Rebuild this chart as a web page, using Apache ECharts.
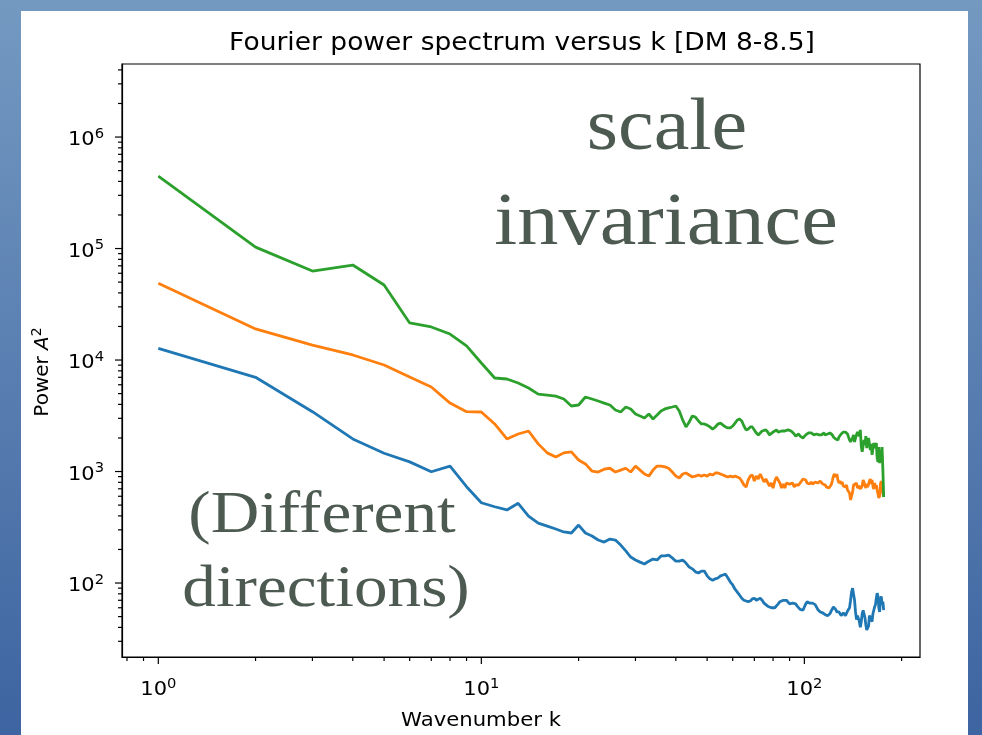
<!DOCTYPE html>
<html>
<head>
<meta charset="utf-8">
<script src="https://cdn.jsdelivr.net/npm/echarts@6/dist/echarts.min.js"></script>
<style>
html,body{margin:0;padding:0;background:#fff;}
#chart{width:982px;height:735px;}
</style>
</head>
<body>
<div id="chart"></div>
<script>
// ---- data ----
const wavenumbers = [1,2,3,4,5,6,7,8,9,10,11,12,13,14,15,16,17,18,19,20,21,22,23,24,25,26,27,28,29,30,
31,32,33,34,35,36,37,38,39,40,41,42,43,44,45,46,47,48,49,50,51,52,53,54,55,56,57,58,59,60,
61,62,63,64,65,66,67,68,69,70,71,72,73,74,75,76,77,78,79,80,81,82,83,84,85,86,87,88,89,90,
91,92,93,94,95,96,97,98,99,100,101,102,103,104,105,106,107,108,109,110,111,112,113,114,115,116,117,118,119,120,
121,122,123,124,125,126,127,128,129,130,131,132,133,134,135,136,137,138,139,140,141,142,143,144,145,146,147,148,149,150,
151,152,153,154,155,156,157,158,159,160,161,162,163,164,165,166,167,168,169,170,171,172,173,174,175,176];

const powerBlue = [12700,7000,3440,1960,1460,1220,995,1120,731,525,483,452,519,399,345,324,305,287,281,331,
281,264,243,233,248,243,219,194,171,161,154,148,157,164,161,175,175,178,168,157,
157,161,151,139,134,126,123,128,128,116,109,106,109,111,116,118,120,111,102,96,
88,83,78,73,70,69,68,69,72,73,70,68,73,70,66,65,62,61,60,58,
60,58,65,68,69,70,69,70,68,65,64,66,68,65,62,61,58,57,57,61,
65,68,68,66,65,66,66,64,61,58,56,55,55,54,53,52,52,51,52,53,
56,58,61,61,58,55,56,55,53,51,53,54,52,51,52,56,58,60,70,83,
90,87,70,55,47,51,53,45,40,45,53,57,56,49,42,38,37,41,51,53,
50,45,53,57,61,64,73,81,76,60,55,70,76,64,68,57];

const powerOrange = [48800,19000,13600,11100,9020,7040,5730,4110,3440,3420,2670,1960,2170,2310,1770,1470,1350,1470,1500,1270,
1170,1010,990,1050,1070,990,1030,1070,990,1120,1030,950,910,1030,1120,1120,1100,1070,990,910,
875,950,970,930,893,910,930,910,930,910,950,930,970,970,950,930,910,893,910,893,
910,893,875,822,757,726,839,910,930,822,910,857,950,875,805,857,839,741,788,711,
822,893,875,788,711,772,711,788,805,772,757,788,726,757,772,757,772,822,857,875,
839,788,757,772,805,772,757,805,822,788,805,822,805,772,741,757,726,697,711,711,
757,822,910,950,893,950,839,788,822,772,805,741,772,726,757,683,711,641,555,533,
655,757,788,741,788,711,683,741,697,683,741,839,822,757,711,772,726,741,822,857,
772,839,741,697,788,711,757,683,628,578,603,772,822,726,641,590];

const powerGreen = [447000,103000,62800,71100,47100,21500,19800,17100,13400,9400,6900,6760,6220,5610,4950,4850,4750,4470,3870,3950,
4660,4470,4290,4110,3950,3560,3420,3790,3640,3280,3150,3020,3280,2960,3210,3490,3640,3720,3790,3870,
3490,2900,2510,2780,3150,3080,2840,2670,2670,2610,2510,2400,2510,2670,2720,2610,2510,2460,2460,2560,
2720,2900,2960,2840,2560,2360,2400,2510,2510,2360,2220,2130,2170,2310,2360,2360,2260,2130,2130,2260,
2310,2360,2260,2260,2310,2220,2310,2260,2360,2310,2310,2260,2170,2080,2080,2170,2080,2000,2000,2040,
2130,2170,2220,2170,2220,2220,2130,2080,2170,2220,2130,2080,2130,2170,2220,2130,2080,2170,2220,2220,
2220,2130,2040,2000,1960,1920,1920,2040,2080,2170,2220,2260,2220,2260,2310,2170,2040,1920,1840,1880,
2000,2130,1840,2000,2080,2260,2170,2080,2360,1690,1500,1470,1920,1730,2080,1620,1880,2000,2000,1560,
1770,1410,1410,1800,1620,1560,1800,1320,1220,1660,1190,1560,1270,1660,1030,590];

const xMajorTicks = [1, 10, 100];
const xMinorTicks = [0.8,0.9,2,3,4,5,6,7,8,9,20,30,40,50,60,70,80,90,200];
const yMajorTicks = [100, 1000, 10000, 100000, 1000000];
const yMinorTicks = [30,40,50,60,70,80,90,200,300,400,500,600,700,800,900,
  2000,3000,4000,5000,6000,7000,8000,9000,20000,30000,40000,50000,60000,70000,80000,90000,
  200000,300000,400000,500000,600000,700000,800000,900000,2000000,3000000,4000000];

const X_MIN = 0.772, X_MAX = 228;
const Y_MIN = 21.7, Y_MAX = 4.52e6;

// ---- build ----
function pairs(xs, ys){ return xs.map((x,i)=>[x, ys[i]]); }
const FONT = 'DejaVu Sans';
const tickRich = {
  b: {fontSize: 20, fontFamily: FONT, fill: '#000', lineHeight: 26, verticalAlign: 'middle'},
  s: {fontSize: 14, fontFamily: FONT, fill: '#000', lineHeight: 15, verticalAlign: 'top'}
};
function expLabel(v){ return '{b|10}{s|' + Math.round(Math.log10(v)) + '}'; }

const xTickData = xMajorTicks.map(v=>[v, Y_MIN, 1]).concat(xMinorTicks.map(v=>[v, Y_MIN, 0]));
const yTickData = yMajorTicks.map(v=>[X_MIN, v, 1]).concat(yMinorTicks.map(v=>[X_MIN, v, 0]));

function lineSeries(name, ys, color){
  return {
    name: name, type: 'line', data: pairs(wavenumbers, ys),
    showSymbol: false, symbol: 'none', silent: true,
    lineStyle: {color: color, width: 2.8}, itemStyle: {color: color},
    clip: true, z: 3
  };
}
const OVERLAY = '#4d5a51';
function centerText(text, x, y, font, fill, extra){
  return Object.assign({type: 'text', z: 100, x: x, y: y,
    style: {text: text, font: font, fill: fill,
      align: 'center', verticalAlign: 'middle', textAlign: 'center', textVerticalAlign: 'middle'}}, extra || {});
}

const chart = echarts.init(document.getElementById('chart'), null, {renderer: 'canvas'});
chart.setOption({
  animation: false,
  backgroundColor: 'transparent',
  graphic: [
    {type: 'rect', z: -100, shape: {x: 0, y: 0, width: 982, height: 735},
     style: {fill: {type: 'linear', x: 0, y: 0, x2: 0, y2: 1,
       colorStops: [{offset: 0, color: '#7499c1'}, {offset: 1, color: '#3e64a1'}]}}},
    {type: 'rect', z: -99, shape: {x: 21, y: 11, width: 947, height: 730}, style: {fill: '#ffffff'}},
    centerText('Fourier power spectrum versus k [DM 8-8.5]', 522, 43, '25px "DejaVu Sans"', '#000', {scaleX: 1.06}),
    centerText('scale', 667, 129, '75px "Liberation Serif"', OVERLAY, {scaleX: 1.07}),
    centerText('invariance', 666, 224, '75px "Liberation Serif"', OVERLAY, {scaleX: 1.1}),
    centerText('(Different', 322, 516, '60px "Liberation Serif"', OVERLAY, {scaleX: 1.12}),
    centerText('directions)', 326, 590, '60px "Liberation Serif"', OVERLAY, {scaleX: 1.12}),
    centerText('Wavenumber k', 481, 721, '20px "DejaVu Sans"', '#000', {scaleX: 1.06}),
    {type: 'text', z: 100, x: 43, y: 372, rotation: Math.PI / 2,
     style: {text: '{n|Power }{i|A}{s|2}', fill: '#000', align: 'center', verticalAlign: 'middle',
       textAlign: 'center', textVerticalAlign: 'middle', font: '20px "DejaVu Sans"',
       rich: {
         n: {fontSize: 20, fontFamily: FONT, fill: '#000', lineHeight: 26, verticalAlign: 'middle'},
         i: {fontSize: 20, fontFamily: FONT, fontStyle: 'italic', fill: '#000', lineHeight: 26, verticalAlign: 'middle'},
         s: {fontSize: 14, fontFamily: FONT, fill: '#000', lineHeight: 15, verticalAlign: 'top'}
       }}}
  ],
  grid: {left: 122, right: 62, top: 64, bottom: 78, show: true, borderColor: '#000', borderWidth: 1.2,
    backgroundColor: 'transparent', containLabel: false},
  xAxis: {
    type: 'log', logBase: 10, min: X_MIN, max: X_MAX,
    axisLine: {show: true, lineStyle: {color: '#000', width: 1.2}},
    axisTick: {show: false}, axisLabel: {show: false}, splitLine: {show: false}
  },
  yAxis: {
    type: 'log', logBase: 10, min: Y_MIN, max: Y_MAX,
    axisLine: {show: true, lineStyle: {color: '#000', width: 1.2}},
    axisTick: {show: false}, axisLabel: {show: false}, splitLine: {show: false}
  },
  series: [
    lineSeries('blue', powerBlue, '#1f77b4'),
    lineSeries('orange', powerOrange, '#ff7f0e'),
    lineSeries('green', powerGreen, '#2ca02c'),
    {
      type: 'custom', name: 'xticks', data: xTickData, clip: false, silent: true, z: 5,
      encode: {x: 0, y: 1},
      renderItem: function(params, api){
        const v = api.value(0), major = api.value(2);
        const p = api.coord([v, api.value(1)]);
        const len = major ? 7 : 4;
        const children = [{type: 'line', shape: {x1: p[0], y1: p[1], x2: p[0], y2: p[1] + len},
          style: {stroke: '#000', lineWidth: 1.2}}];
        if (major) {
          children.push({type: 'text', x: p[0], y: p[1] + 33, scaleX: 1.05,
            style: {text: expLabel(v), rich: tickRich, align: 'center', verticalAlign: 'middle', fill: '#000',
              font: '20px "DejaVu Sans"'}});
        }
        return {type: 'group', children: children};
      }
    },
    {
      type: 'custom', name: 'yticks', data: yTickData, clip: false, silent: true, z: 5,
      encode: {x: 0, y: 1},
      renderItem: function(params, api){
        const v = api.value(1), major = api.value(2);
        const p = api.coord([api.value(0), v]);
        const len = major ? 7 : 4;
        const children = [{type: 'line', shape: {x1: p[0] - len, y1: p[1], x2: p[0], y2: p[1]},
          style: {stroke: '#000', lineWidth: 1.2}}];
        if (major) {
          children.push({type: 'text', x: p[0] - 18, y: p[1] + 3, scaleX: 1.05,
            style: {text: expLabel(v), rich: tickRich, align: 'right', verticalAlign: 'middle', fill: '#000',
              font: '20px "DejaVu Sans"'}});
        }
        return {type: 'group', children: children};
      }
    }
  ]
});
</script>
</body>
</html>
